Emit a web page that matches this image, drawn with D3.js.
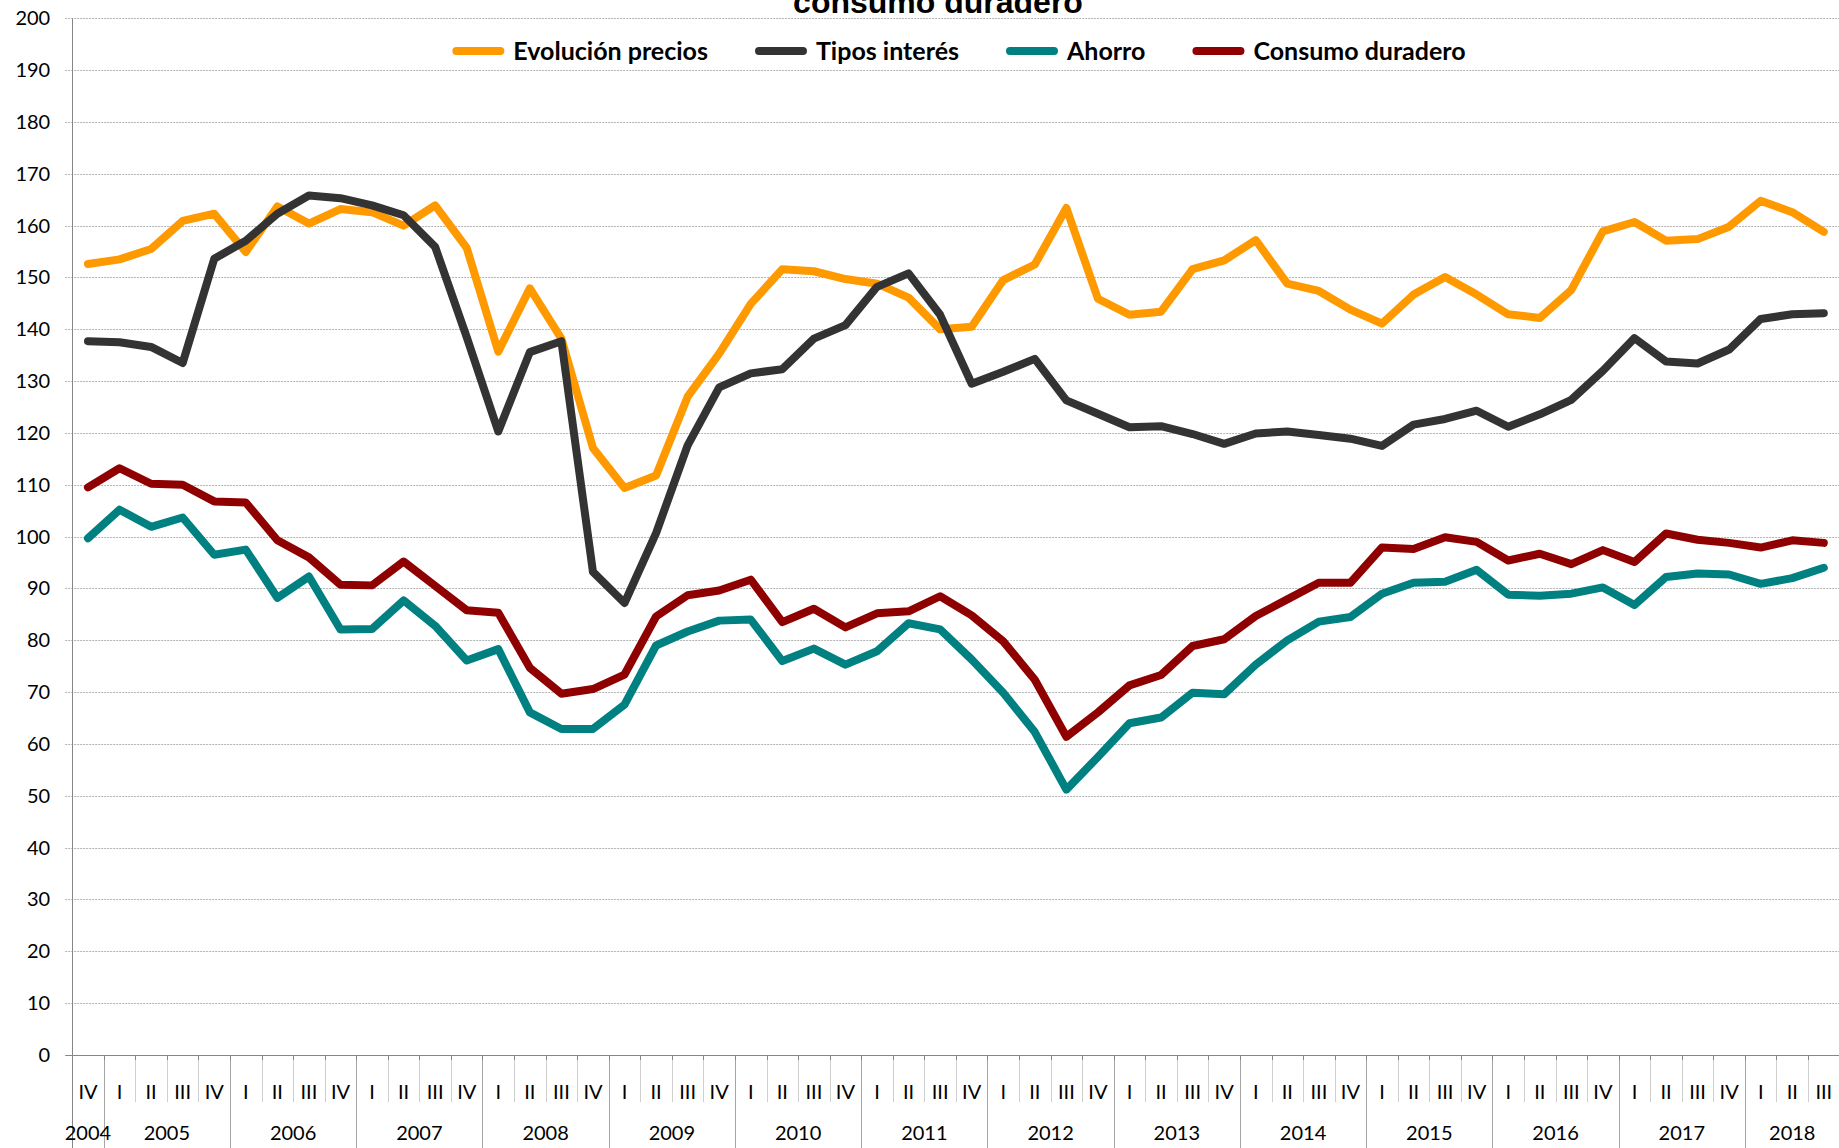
<!DOCTYPE html>
<html>
<head>
<meta charset="utf-8">
<script src="https://cdn.jsdelivr.net/npm/d3@7"></script>
<style>
  html, body { margin: 0; padding: 0; background: #fff; }
  svg { display: block; }
</style>
</head>
<body>
<div id="container"></div>
<script>
const quarters = ['IV',
  'I', 'II', 'III', 'IV', 'I', 'II', 'III', 'IV', 'I', 'II', 'III', 'IV',
  'I', 'II', 'III', 'IV', 'I', 'II', 'III', 'IV', 'I', 'II', 'III', 'IV',
  'I', 'II', 'III', 'IV', 'I', 'II', 'III', 'IV', 'I', 'II', 'III', 'IV',
  'I', 'II', 'III', 'IV', 'I', 'II', 'III', 'IV', 'I', 'II', 'III', 'IV',
  'I', 'II', 'III', 'IV', 'I', 'II', 'III'];

const years = [
  { year: '2004', n: 1 }, { year: '2005', n: 4 }, { year: '2006', n: 4 },
  { year: '2007', n: 4 }, { year: '2008', n: 4 }, { year: '2009', n: 4 },
  { year: '2010', n: 4 }, { year: '2011', n: 4 }, { year: '2012', n: 4 },
  { year: '2013', n: 4 }, { year: '2014', n: 4 }, { year: '2015', n: 4 },
  { year: '2016', n: 4 }, { year: '2017', n: 4 }, { year: '2018', n: 3 },
];

const yTicks = d3.range(0, 201, 10);

const precios = [152.6, 153.5, 155.5, 160.9, 162.3, 154.9, 163.7, 160.4, 163.2, 162.6, 160.0,
  163.9, 155.7, 135.7, 147.9, 138.2, 117.1, 109.4, 111.8, 127.0, 135.3, 144.9,
  151.6, 151.2, 149.7, 148.8, 146.1, 140.0, 140.5, 149.5, 152.5, 163.4, 145.9,
  142.8, 143.4, 151.6, 153.3, 157.2, 148.8, 147.4, 143.8, 141.1, 146.7, 150.1,
  146.7, 142.9, 142.2, 147.6, 158.9, 160.7, 157.1, 157.4, 159.8, 164.8, 162.6, 158.8];

const tipos = [137.7, 137.5, 136.6, 133.5, 153.6, 157.1, 162.3, 165.8, 165.3, 163.9, 162.0,
  155.9, 138.5, 120.3, 135.6, 137.7, 93.2, 87.2, 100.7, 117.6, 128.8, 131.5,
  132.3, 138.2, 140.8, 148.2, 150.8, 142.8, 129.5, 131.8, 134.3, 126.3, 123.7,
  121.1, 121.3, 119.8, 117.9, 119.9, 120.3, 119.6, 118.9, 117.5, 121.6, 122.7,
  124.3, 121.2, 123.6, 126.4, 132.0, 138.3, 133.8, 133.4, 136.1, 142.0, 142.9, 143.1];

const ahorro = [99.7, 105.2, 101.9, 103.7, 96.5, 97.5, 88.2, 92.3, 82.1, 82.2, 87.7,
  82.8, 76.1, 78.3, 66.1, 62.9, 62.9, 67.6, 79.0, 81.7, 83.8, 84.0,
  76.0, 78.4, 75.3, 77.9, 83.3, 82.1, 76.3, 69.9, 62.3, 51.2, 57.5,
  64.0, 65.1, 69.9, 69.6, 75.3, 80.0, 83.6, 84.5, 89.0, 91.1, 91.3,
  93.6, 88.8, 88.6, 89.0, 90.2, 86.8, 92.2, 92.9, 92.7, 90.9, 92.0, 94.0];

const consumo = [109.5, 113.2, 110.2, 110.0, 106.8, 106.6, 99.3, 96.0, 90.7, 90.6, 95.2,
  90.5, 85.8, 85.3, 74.7, 69.7, 70.6, 73.4, 84.6, 88.7, 89.6, 91.7,
  83.5, 86.1, 82.5, 85.2, 85.6, 88.5, 84.8, 79.8, 72.4, 61.4, 66.1,
  71.3, 73.3, 78.9, 80.2, 84.7, 87.9, 91.1, 91.1, 97.9, 97.6, 99.9,
  99.0, 95.4, 96.7, 94.7, 97.4, 95.1, 100.6, 99.4, 98.8, 97.9, 99.3, 98.8];

const seriesNames = ['Evolución precios', 'Tipos interés', 'Ahorro', 'Consumo duradero'];
const seriesColors = ['#ff9900', '#333333', '#008080', '#8f0000'];
const seriesValues = [precios, tipos, ahorro, consumo];

const width = 1839;
const height = 1148;
const plotLeft = 72.2;
const plotRight = 1839.6;
const plotTop = 18.3;
const plotBottom = 1055;

const svg = d3.select('#container')
  .append('svg')
  .attr('width', width)
  .attr('height', height);

const x = d3.scaleBand()
  .domain(d3.range(quarters.length))
  .range([plotLeft, plotRight])
  .padding(0);

const y = d3.scaleLinear()
  .domain([0, 200])
  .range([plotBottom, plotTop]);

const bw = x.bandwidth();
const cx = i => x(i) + bw / 2;

// gridlines
svg.append('g')
  .selectAll('line')
  .data(yTicks.filter(d => d > 0))
  .enter()
  .append('line')
  .attr('x1', plotLeft - 7)
  .attr('x2', width)
  .attr('y1', d => Math.round(y(d)) + 0.5)
  .attr('y2', d => Math.round(y(d)) + 0.5)
  .attr('stroke', '#b4b4b4')
  .attr('stroke-width', 1)
  .attr('stroke-dasharray', '2,1');

// y axis
const yAxis = svg.append('g')
  .attr('transform', `translate(${plotLeft},0)`)
  .call(d3.axisLeft(y).tickValues(yTicks).tickSize(0).tickPadding(22));
yAxis.select('.domain').remove();
yAxis.selectAll('text')
  .attr('font-family', 'Lato, sans-serif')
  .attr('font-size', '20px')
  .attr('fill', '#000');

svg.append('line')
  .attr('x1', Math.round(plotLeft) + 0.5)
  .attr('x2', Math.round(plotLeft) + 0.5)
  .attr('y1', plotTop)
  .attr('y2', height)
  .attr('stroke', '#868686');

svg.append('line')
  .attr('x1', plotLeft - 7)
  .attr('x2', width)
  .attr('y1', Math.round(plotBottom) + 0.5)
  .attr('y2', Math.round(plotBottom) + 0.5)
  .attr('stroke', '#868686');

// category axis: quarter separators and year separators
const yearStarts = [];
let acc = 0;
years.forEach(d => {
  yearStarts.push(acc);
  d.start = acc;
  acc += d.n;
});

const sepG = svg.append('g');
d3.range(1, quarters.length).forEach(i => {
  const isYear = yearStarts.includes(i);
  sepG.append('line')
    .attr('x1', Math.round(x(i)) + 0.5)
    .attr('x2', Math.round(x(i)) + 0.5)
    .attr('y1', plotBottom)
    .attr('y2', isYear ? height : 1102)
    .attr('stroke', isYear ? '#a6a6a6' : '#cfcfcf');
  sepG.append('line')
    .attr('x1', Math.round(x(i)) + 0.5)
    .attr('x2', Math.round(x(i)) + 0.5)
    .attr('y1', plotBottom)
    .attr('y2', plotBottom + 5)
    .attr('stroke', '#868686');
});

svg.append('g')
  .selectAll('text')
  .data(quarters)
  .enter()
  .append('text')
  .attr('x', (d, i) => cx(i))
  .attr('y', 1092)
  .attr('dy', '0.35em')
  .attr('text-anchor', 'middle')
  .attr('font-family', 'Lato, sans-serif')
  .attr('font-size', '20px')
  .text(d => d);

svg.append('g')
  .selectAll('text')
  .data(years)
  .enter()
  .append('text')
  .attr('x', d => (x(d.start) + x(d.start + d.n - 1) + bw) / 2)
  .attr('y', 1133)
  .attr('dy', '0.35em')
  .attr('text-anchor', 'middle')
  .attr('font-family', 'Lato, sans-serif')
  .attr('font-size', '20px')
  .text(d => d.year);

// series
const line = d3.line()
  .x((d, i) => cx(i))
  .y(d => y(d));

svg.append('g')
  .selectAll('path')
  .data(seriesValues)
  .enter()
  .append('path')
  .attr('d', d => line(d))
  .attr('fill', 'none')
  .attr('stroke', (d, i) => seriesColors[i])
  .attr('stroke-width', 8)
  .attr('stroke-linejoin', 'round')
  .attr('stroke-linecap', 'round');

// title (only its last line falls inside the picture, as in the original)
svg.append('text')
  .attr('x', 938)
  .attr('y', 13)
  .attr('text-anchor', 'middle')
  .attr('font-family', '"Liberation Sans", Arial, sans-serif')
  .attr('font-weight', 'bold')
  .attr('font-size', '32px')
  .text('consumo duradero');

// legend
const legend = svg.append('g').attr('transform', 'translate(0,51)');
const items = legend.selectAll('g')
  .data(seriesNames)
  .enter()
  .append('g');

items.append('line')
  .attr('x1', 4)
  .attr('x2', 48)
  .attr('stroke', (d, i) => seriesColors[i])
  .attr('stroke-width', 8)
  .attr('stroke-linecap', 'round');

items.append('text')
  .attr('x', 61)
  .attr('dy', '0.35em')
  .attr('font-family', 'Lato, sans-serif')
  .attr('font-weight', 'bold')
  .attr('font-size', '25px')
  .text(d => d);

const widths = [];
items.each(function () {
  widths.push(61 + this.querySelector('text').getComputedTextLength());
});
const gap = 47;
const total = d3.sum(widths) + gap * (widths.length - 1);
let pos = 959 - total / 2;
items.attr('transform', (d, i) => {
  const t = `translate(${pos},0)`;
  pos += widths[i] + gap;
  return t;
});
</script>
</body>
</html>
